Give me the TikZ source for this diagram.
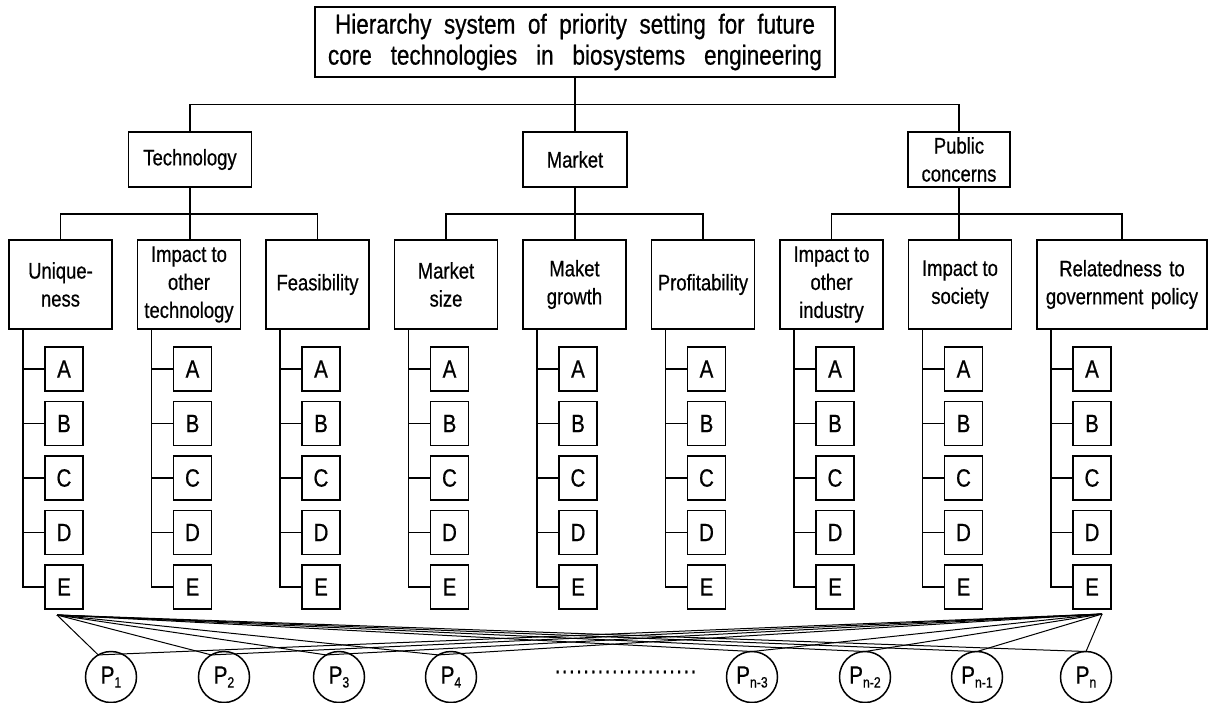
\documentclass[tikz,border=0pt]{standalone}
\usepackage{amsmath}
\usepackage{fontspec}
\setmainfont{Liberation Sans}[FakeStretch=0.82, FakeBold=0.6]
\usetikzlibrary{positioning,calc}

\newcommand{\psub}[1]{P\raisebox{-4pt}{\fontsize{15}{15}\selectfont #1}}

\begin{document}
\begin{tikzpicture}[x=1pt, y=1pt, line width=1.4pt,
    box/.style={draw, line width=1.5pt, outer sep=0pt, align=center, inner sep=1pt, font=\fontsize{22.5}{28}\selectfont},
    crit/.style={box, minimum width=103pt, minimum height=89pt},
    item/.style={box, minimum width=38pt, minimum height=44pt, font=\fontsize{25}{25}\selectfont},
    pnode/.style={draw, circle, line width=1.5pt, outer sep=0pt, minimum size=51pt, inner sep=0pt, font=\fontsize{25}{25}\selectfont}]
\useasboundingbox (0,0) rectangle (1210,-702);

% goal and the three main groups
\node[box, minimum width=520pt, minimum height=70pt, font=\fontsize{27.5}{31}\selectfont] (goal) at (575,-42)
  {\makebox[480pt][s]{Hierarchy system of priority setting for future}\\
   \makebox[494pt][s]{core technologies in biosystems engineering}};
\node[box, minimum width=123pt, minimum height=55pt] (tech) at (190,-159.5) {Technology};
\node[box, minimum width=104pt, minimum height=55pt] (market) at (575,-159.5) {Market};
\node[box, minimum width=102pt, minimum height=55pt] (public) at (959,-159.5) {Public\\concerns};

% criteria
\node[crit] (uniq) at (60.5,-284.5) {Unique-\\ness};
\node[crit, right=25.5pt of uniq] (imptec) {Impact to\\other\\technology};
\node[crit, right=25.5pt of imptec] (feas) {Feasibility};
\node[crit, right=25.5pt of feas] (msize) {Market\\size};
\node[crit, right=25.5pt of msize] (mgrow) {Maket\\growth};
\node[crit, right=25.5pt of mgrow] (prof) {Profitability};
\node[crit, right=25.5pt of prof] (impind) {Impact to\\other\\industry};
\node[crit, right=25.5pt of impind] (soc) {Impact to\\society};
\node[crit, right=25.5pt of soc, minimum width=170pt, text width=166pt] (rel) {Relatedness to\\government policy};

% links between levels
\draw (goal.south) -- (market.north);
\draw (tech.north) -- ++(0,27.5) -| (public.north);
\draw (tech.south) -- (tech.south |- imptec.north);
\draw (market.south) -- (market.south |- mgrow.north);
\draw (public.south) -- (public.south |- soc.north);
\draw (uniq.north) -- ++(0,26) -| (feas.north);
\draw (msize.north) -- ++(0,26) -| (prof.north);
\draw (impind.north) -- ++(0,26) -| (rel.north);

% alternatives under each criterion
\foreach \c in {uniq,imptec,feas,msize,mgrow,prof,impind,soc,rel} {
  \coordinate (\c-s) at ($(\c.south west)+(14,0)$);
  \foreach \l [count=\i] in {A,B,C,D,E}
    \node[item] (\c-\l) at ($(\c.south west)+(55,-40-54.5*\i+54.5)$) {\l};
  \draw (\c-s) |- (\c-E.west);
  \foreach \l in {A,B,C,D}
    \draw (\c-\l.west) -- (\c-\l.west -| \c-s);
}

% projects
\foreach \x/\s [count=\k] in {111/1, 224/2, 339/3, 451/4, 752/n-3, 865/n-2, 977/n-1, 1086/n}
  \node[pnode] (p\k) at (\x,-677) {\psub{\s}};
\node[font=\fontsize{24}{24}\selectfont] (dots) at (625.5,-672)
  {\hbox to 143pt{\xleaders\hbox to 7.15pt{\hss.\hss}\hfill}};

\coordinate (fl) at ($(uniq-E.south)+(-7,-6)$);
\coordinate (fr) at ($(rel-E.south)+(10,-5)$);
\foreach \k in {1,...,4} {
  \draw[line width=1pt] (fl) -- (p\k.120);
  \draw[line width=1pt] (fr) -- (p\k.120);
}
\foreach \k in {5,...,8} {
  \draw[line width=1pt] (fl) -- (p\k.north);
  \draw[line width=1pt] (fr) -- (p\k.north);
}
\end{tikzpicture}
\end{document}
